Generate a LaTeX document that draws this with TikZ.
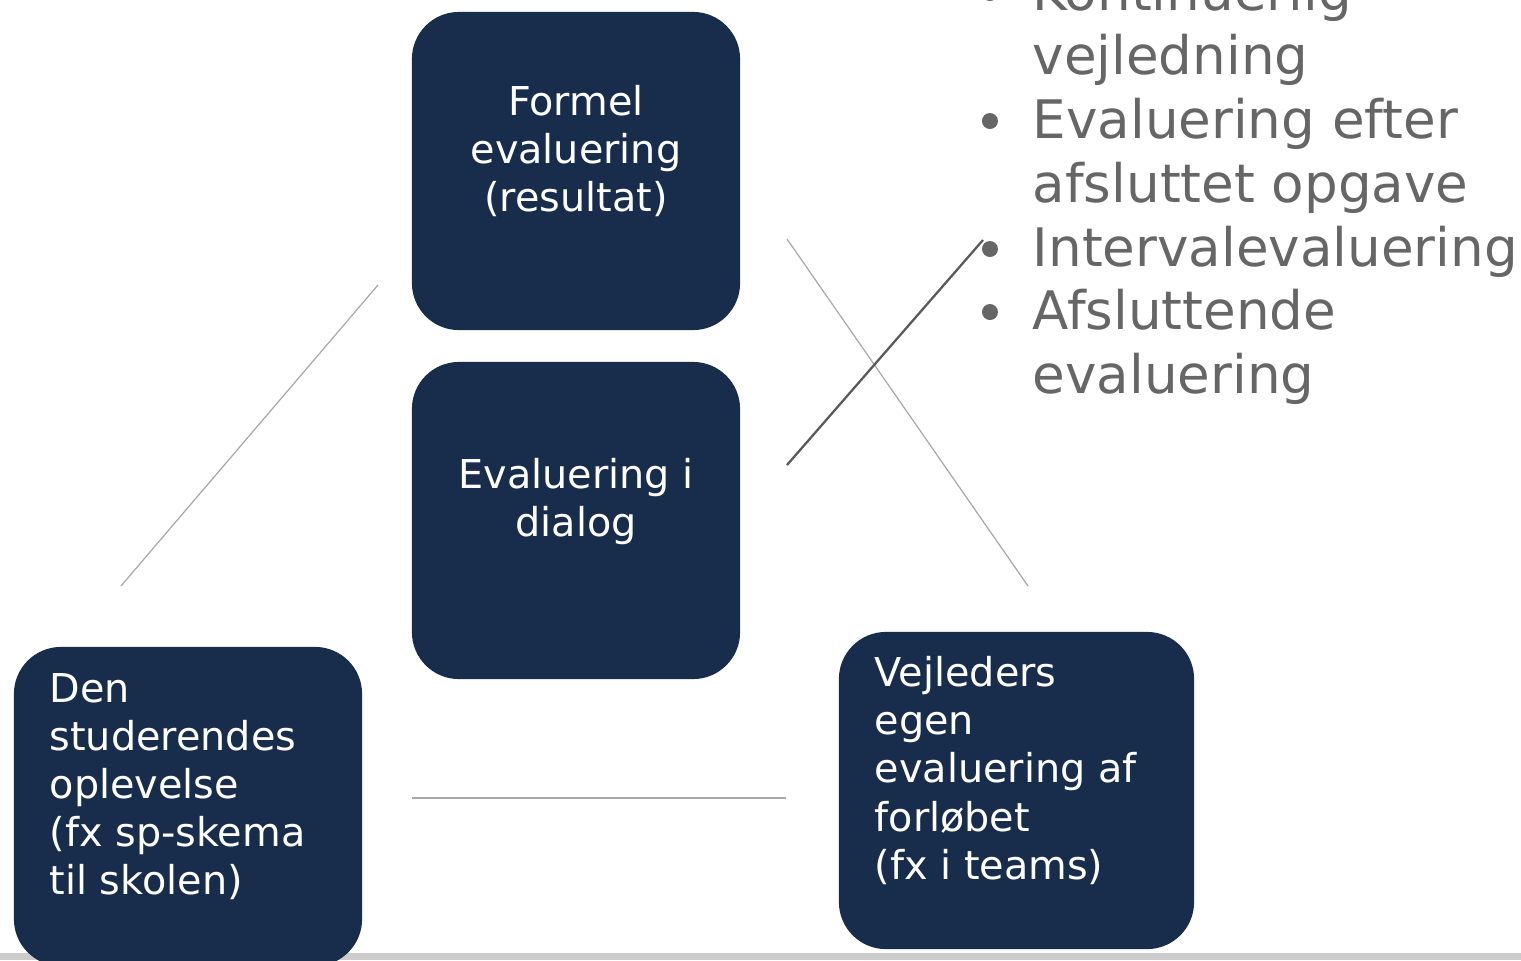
\documentclass[tikz,border=0pt]{standalone}
\usepackage{fontspec}
\setmainfont{DejaVu Sans}
\usepackage{xcolor}
\usepackage{tikz}
\usetikzlibrary{positioning}
\definecolor{evNavy}{HTML}{172D4B}
\definecolor{evText}{HTML}{666666}
\definecolor{evLine}{HTML}{A8A8A8}
\definecolor{evDark}{HTML}{5A5A5A}
\definecolor{evBar}{HTML}{CCCCCC}

\begin{document}
\begin{tikzpicture}[
    x=0.01cm, y=-0.01cm,
    evbox/.style={rectangle, rounded corners=0.47cm, fill=evNavy, draw=none, inner sep=0pt},
    boxtext/.style={text=white, inner sep=0pt, font=\fontsize{11.3}{13.66}\selectfont},
    itemtext/.style={text=evText, inner sep=0pt, anchor=north west, align=left, font=\fontsize{15.1}{18.2}\selectfont},
    bulletdot/.style={circle, fill=evText, inner sep=0pt, minimum size=0.16cm},
    thinline/.style={evLine, line width=0.35pt},
    darkline/.style={evDark, line width=0.65pt},
]
\useasboundingbox (0,0) rectangle (1521,960);
\clip (0,0) rectangle (1521,960);

% ---- bottom bar ----
\fill[evBar] (0,953) rectangle (1521,960);

% ---- boxes ----
\node[evbox, minimum width=3.28cm, minimum height=3.18cm] (formel) at (576,171) {};
\node[evbox, minimum width=3.28cm, minimum height=3.17cm] (dialog) at (576,520.5) {};
\node[evbox, minimum width=3.48cm, minimum height=3.19cm] (student) at (188,806.5) {};
\node[evbox, minimum width=3.55cm, minimum height=3.17cm] (vejleder) at (1016.5,790.5) {};

\node[boxtext, anchor=north, align=center] (formelTxt) at (576,85) {Formel\\evaluering\\(resultat)};
\node[boxtext, anchor=north, align=center] (dialogTxt) at (576,458) {Evaluering i\\dialog};
\node[boxtext, anchor=north west, align=left] (studentTxt) at (49,673) {Den\\studerendes\\oplevelse\\(fx sp-skema\\til skolen)};
\node[boxtext, anchor=north west, align=left] (vejlederTxt) at (874,656) {Vejleders\\egen\\evaluering af\\forløbet\\(fx i teams)};

% ---- bullet list ----
\node[itemtext] (it1) at (1032,-31) {Kontinuerlig\\vejledning};
\node[itemtext] (it2) at (1032,97) {Evaluering efter\\afsluttet opgave};
\node[itemtext] (it3) at (1032,225) {Intervalevaluering};
\node[itemtext] (it4) at (1032,288) {Afsluttende\\evaluering};

\node[bulletdot] (b1) at ([xshift=-0.42cm, yshift=-0.24cm]it1.north west) {};
\node[bulletdot] (b2) at ([xshift=-0.42cm, yshift=-0.24cm]it2.north west) {};
\node[bulletdot] (b3) at ([xshift=-0.42cm, yshift=-0.24cm]it3.north west) {};
\node[bulletdot] (b4) at ([xshift=-0.42cm, yshift=-0.24cm]it4.north west) {};

% ---- lines ----
\coordinate (l1a) at (121,586);
\coordinate (l1b) at (378,285);
\coordinate (l2a) at (787,239);
\coordinate (l2b) at (1028,586);
\coordinate (l3a) at (787,465);
\coordinate (l3b) at (983,240);
\coordinate (l4a) at (412,798);
\coordinate (l4b) at (786,798);

\draw[thinline] (l1a) -- (l1b);
\draw[thinline] (l2a) -- (l2b);
\draw[thinline] (l4a) -- (l4b);
\draw[darkline] (l3a) -- (l3b);

\end{tikzpicture}
\end{document}
